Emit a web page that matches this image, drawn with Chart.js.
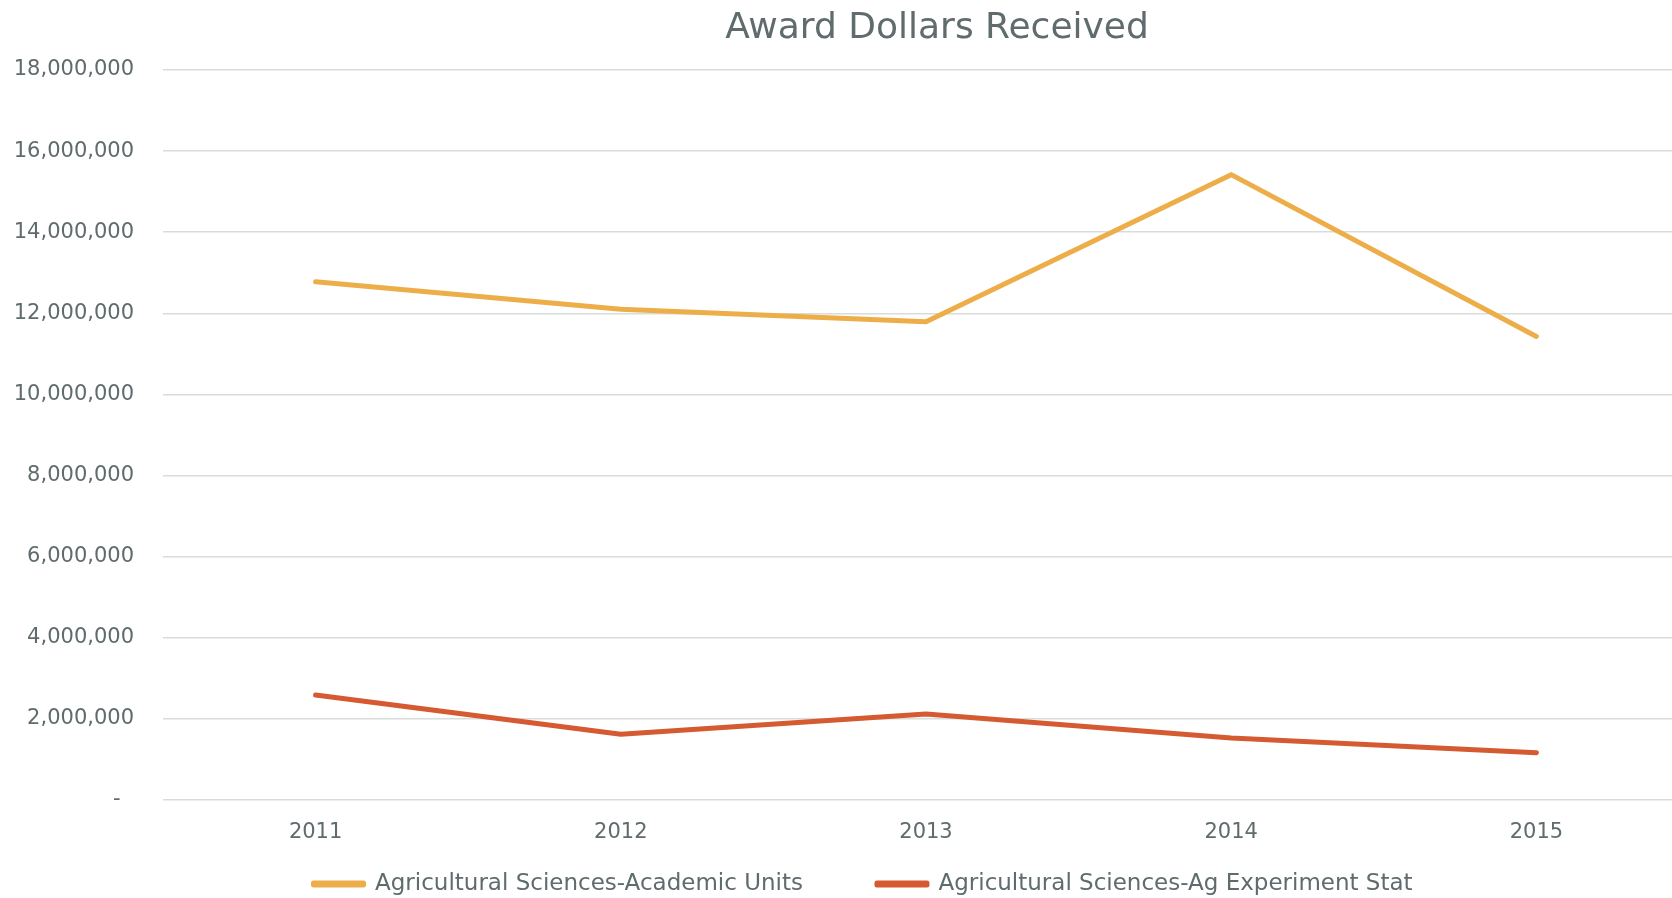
<!DOCTYPE html>
<html>
<head>
<meta charset="utf-8">
<script src="https://cdn.jsdelivr.net/npm/chart.js@4"></script>
<style>
  html, body { margin: 0; padding: 0; background: #ffffff; overflow: hidden; }
  #wrap { width: 1672px; height: 898px; overflow: hidden; position: relative; }
  canvas { display: block; }
</style>
</head>
<body>
<div id="wrap"><canvas id="c" width="1700" height="898"></canvas></div>
<script>
const categories = ['2011', '2012', '2013', '2014', '2015'];
const academicUnits = [12780000, 12100000, 11790000, 15420000, 11430000];
const agExperimentStat = [2590000, 1620000, 2120000, 1530000, 1165000];
const seriesNames = ['Agricultural Sciences-Academic Units', 'Agricultural Sciences-Ag Experiment Stat'];
const yTickMax = 18000000;
const yTickStep = 2000000;
const titleText = 'Award Dollars Received';

const textColor = '#5f6b6d';
const gridColor = '#d9dcdc';
const fontFamily = '"DejaVu Sans", "Liberation Sans", sans-serif';

const placeBoxes = {
  id: 'placeBoxes',
  afterLayout(chart) {
    const t = chart.titleBlock;
    if (t) { t.left = 937 - 800; t.right = 937 + 800; }
    const l = chart.legend;
    if (l) {
      l.left = 239.5; l.right = l.left + 1700;
      l.top = 798.5; l.bottom = 898;
    }
  }
};

new Chart(document.getElementById('c'), {
  type: 'line',
  data: {
    labels: categories,
    datasets: [
      { label: seriesNames[0], data: academicUnits, borderColor: '#edae4a', backgroundColor: '#edae4a',
        borderWidth: 5, pointRadius: 0, tension: 0, borderCapStyle: 'round', borderJoinStyle: 'round' },
      { label: seriesNames[1], data: agExperimentStat, borderColor: '#d55a31', backgroundColor: '#d55a31',
        borderWidth: 5, pointRadius: 0, tension: 0, borderCapStyle: 'round', borderJoinStyle: 'round' }
    ]
  },
  options: {
    responsive: false,
    animation: false,
    devicePixelRatio: 1,
    layout: { padding: { left: 0, right: 11, top: 0, bottom: 0 } },
    plugins: {
      title: {
        display: true, text: titleText, color: textColor,
        font: { family: fontFamily, size: 36, weight: 'normal' },
        padding: { top: 7, bottom: 19.8 }
      },
      legend: {
        display: true, position: 'bottom', align: 'start', maxHeight: 40,
        labels: {
          color: textColor, font: { family: fontFamily, size: 23 },
          boxWidth: 50, boxHeight: 2, padding: 74
        }
      },
      tooltip: { enabled: false }
    },
    scales: {
      x: {
        offset: true,
        grid: { display: false, offset: true },
        border: { display: false },
        ticks: { color: textColor, font: { family: fontFamily, size: 21 }, padding: 12 },
        afterFit(s) { s.height = 58; }
      },
      y: {
        min: 0, max: yTickMax,
        grid: { color: gridColor, lineWidth: 1.5, drawTicks: false },
        border: { display: false },
        ticks: {
          stepSize: yTickStep, color: textColor, font: { family: fontFamily, size: 21 }, padding: 29,
          callback: v => v === 0 ? '-  ' : v.toLocaleString('en-US')
        },
        afterFit(s) { s.width = 163; }
      }
    }
  },
  plugins: [placeBoxes]
});
</script>
</body>
</html>
